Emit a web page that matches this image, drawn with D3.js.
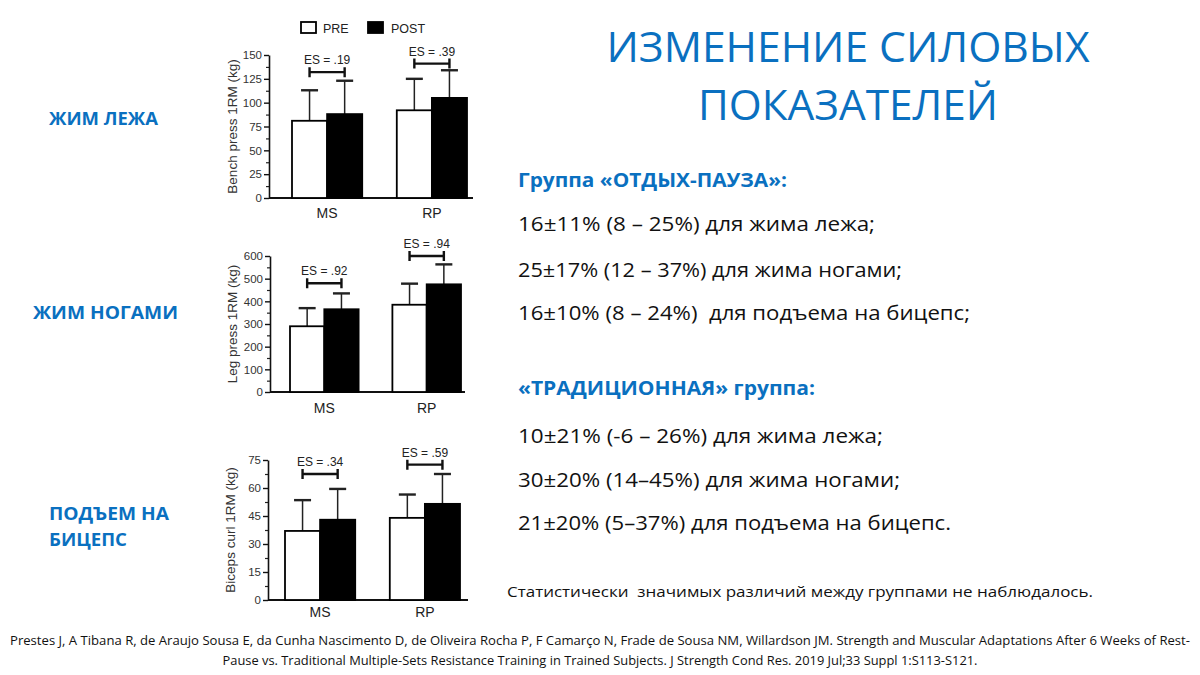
<!DOCTYPE html>
<html><head><meta charset="utf-8">
<script src="https://cdn.jsdelivr.net/npm/d3@7"></script>
<style>body{margin:0;background:#fff}svg{display:block}</style>
</head><body><svg id="c" width="1200" height="675"></svg>
<script>
// ---------- data ----------
const categories = ["MS", "RP"];
const seriesNames = ["PRE", "POST"];

const benchPre = [81, 92];
const benchPreSD = [32, 33];
const benchPost = [88, 105];
const benchPostSD = [35, 29];
const benchES = [".19", ".39"];
const benchESLevel = [132, 141];
const benchTicks = [0, 25, 50, 75, 100, 125, 150];

const legPre = [290, 385];
const legPreSD = [80, 93];
const legPost = [365, 475];
const legPostSD = [70, 88];
const legES = [".92", ".94"];
const legESLevel = [480, 600];
const legTicks = [0, 100, 200, 300, 400, 500, 600];

const bicepsPre = [37, 44];
const bicepsPreSD = [16.5, 12.5];
const bicepsPost = [43, 51.5];
const bicepsPostSD = [16.5, 16];
const bicepsES = [".34", ".59"];
const bicepsESLevel = [67.5, 72.5];
const bicepsTicks = [0, 15, 30, 45, 60, 75];

const exerciseLabels = [["ЖИМ ЛЕЖА"], ["ЖИМ НОГАМИ"], ["ПОДЪЕМ НА", "БИЦЕПС"]];
const titleLines = ["ИЗМЕНЕНИЕ СИЛОВЫХ", "ПОКАЗАТЕЛЕЙ"];
const rpHeader = "Группа «ОТДЫХ-ПАУЗА»:";
const rpLines = ["16±11% (8 – 25%) для жима лежа;", "25±17% (12 – 37%) для жима ногами;", "16±10% (8 – 24%)  для подъема на бицепс;"];
const msHeader = "«ТРАДИЦИОННАЯ» группа:";
const msLines = ["10±21% (-6 – 26%) для жима лежа;", "30±20% (14–45%) для жима ногами;", "21±20% (5–37%) для подъема на бицепс."];
const noteText = "Статистически  значимых различий между группами не наблюдалось.";
const citation = ["Prestes J, A Tibana R, de Araujo Sousa E, da Cunha Nascimento D, de Oliveira Rocha P, F Camarço N, Frade de Sousa NM, Willardson JM. Strength and Muscular Adaptations After 6 Weeks of Rest-",
  "Pause vs. Traditional Multiple-Sets Resistance Training in Trained Subjects. J Strength Cond Res. 2019 Jul;33 Suppl 1:S113-S121."];

// ---------- drawing ----------
const svg = d3.select("#c");
const BLUE = "#0a70c0";
const chartFont = "'Liberation Sans', Arial, sans-serif";
const textFont = "'Open Sans', 'Noto Sans', sans-serif";

const panels = [
  {ylabel: "Bench press 1RM (kg)", pre: benchPre, preSD: benchPreSD, post: benchPost, postSD: benchPostSD,
   es: benchES, esLevel: benchESLevel, ticks: benchTicks,
   yTop: 55, yBot: 198, axisX: 269, axisEnd: 473, bars: [292, 467], catY: 218, ylx: 232},
  {ylabel: "Leg press 1RM (kg)", pre: legPre, preSD: legPreSD, post: legPost, postSD: legPostSD,
   es: legES, esLevel: legESLevel, ticks: legTicks,
   yTop: 256, yBot: 392, axisX: 270, axisEnd: 465, bars: [290, 461], catY: 413, ylx: 232},
  {ylabel: "Biceps curl 1RM (kg)", pre: bicepsPre, preSD: bicepsPreSD, post: bicepsPost, postSD: bicepsPostSD,
   es: bicepsES, esLevel: bicepsESLevel, ticks: bicepsTicks,
   yTop: 460, yBot: 600, axisX: 268, axisEnd: 468, bars: [285, 460], catY: 617, ylx: 230}
];

panels.forEach(p => {
  const g = svg.append("g");
  const tmin = p.ticks[0], tmax = p.ticks[p.ticks.length - 1];
  const y = d3.scaleLinear().domain([tmin, tmax]).range([p.yBot, p.yTop]);
  const x = d3.scaleBand().domain(categories).range(p.bars).paddingInner(0.33).paddingOuter(0);
  const xs = d3.scaleBand().domain(seriesNames).range([0, x.bandwidth()]).padding(0);

  // minor ticks
  const step = p.ticks[1] - p.ticks[0];
  const minor = p.ticks.slice(0, -1).map(t => t + step / 2);
  g.append("g").attr("transform", `translate(${p.axisX},0)`)
    .call(d3.axisLeft(y).tickValues(minor).tickSize(3).tickFormat(""))
    .call(a => a.select(".domain").remove())
    .call(a => a.selectAll("line").attr("stroke", "#222").attr("stroke-width", 1.2));

  // y axis
  g.append("g").attr("transform", `translate(${p.axisX},0)`)
    .call(d3.axisLeft(y).tickValues(p.ticks).tickSize(5).tickSizeOuter(0).tickPadding(2).tickFormat(d3.format("d")))
    .call(a => a.select(".domain").attr("stroke", "#111").attr("stroke-width", 1.6))
    .call(a => a.selectAll("line").attr("stroke", "#111").attr("stroke-width", 1.4))
    .call(a => a.selectAll("text").attr("font-family", chartFont).attr("font-size", 11.5).attr("fill", "#333"));

  // x baseline
  g.append("line").attr("x1", p.axisX).attr("x2", p.axisEnd).attr("y1", y(0)).attr("y2", y(0))
    .attr("stroke", "#111").attr("stroke-width", 1.8);

  // category labels
  g.selectAll(".cat").data(categories).join("text")
    .attr("x", d => x(d) + x.bandwidth() / 2).attr("y", p.catY)
    .attr("text-anchor", "middle").attr("font-family", chartFont).attr("font-size", 14).attr("fill", "#222")
    .text(d => d);

  // y label
  g.append("text").attr("transform", `translate(${p.ylx},${(p.yTop + p.yBot) / 2}) rotate(-90)`)
    .attr("text-anchor", "middle").attr("dominant-baseline", "central")
    .attr("font-family", chartFont).attr("font-size", 13.5).attr("fill", "#333").text(p.ylabel);

  const rows = [];
  categories.forEach((c, i) => {
    rows.push({c, s: "PRE", v: p.pre[i], sd: p.preSD[i]});
    rows.push({c, s: "POST", v: p.post[i], sd: p.postSD[i]});
  });

  // error bars (upper)
  rows.forEach(r => {
    const cx = x(r.c) + xs(r.s) + xs.bandwidth() / 2;
    g.append("line").attr("x1", cx).attr("x2", cx).attr("y1", y(r.v)).attr("y2", y(r.v + r.sd))
      .attr("stroke", "#222").attr("stroke-width", 1.5);
    g.append("line").attr("x1", cx - 8.5).attr("x2", cx + 8.5).attr("y1", y(r.v + r.sd)).attr("y2", y(r.v + r.sd))
      .attr("stroke", "#222").attr("stroke-width", 2.4);
  });

  // bars
  g.selectAll(".bar").data(rows).join("rect")
    .attr("x", d => x(d.c) + xs(d.s)).attr("width", xs.bandwidth())
    .attr("y", d => y(d.v)).attr("height", d => y(0) - y(d.v))
    .attr("fill", d => d.s === "PRE" ? "#fff" : "#000")
    .attr("stroke", "#000").attr("stroke-width", 1.8);

  // ES brackets
  categories.forEach((c, i) => {
    const x1 = x(c) + xs("PRE") + xs.bandwidth() / 2;
    const x2 = x(c) + xs("POST") + xs.bandwidth() / 2;
    const yy = y(p.esLevel[i]);
    g.append("path").attr("d", `M${x1},${yy - 5}V${yy + 5}M${x1},${yy}H${x2}M${x2},${yy - 5}V${yy + 5}`)
      .attr("fill", "none").attr("stroke", "#111").attr("stroke-width", 2.4);
    g.append("text").attr("x", (x1 + x2) / 2).attr("y", yy - 8).attr("text-anchor", "middle")
      .attr("font-family", chartFont).attr("font-size", 12).attr("fill", "#222").text("ES = " + p.es[i]);
  });
});

// legend
const leg = svg.append("g").attr("font-family", chartFont).attr("font-size", 12.5).attr("fill", "#222");
leg.append("rect").attr("x", 301).attr("y", 22).attr("width", 15).attr("height", 11).attr("fill", "#fff").attr("stroke", "#000").attr("stroke-width", 1.8);
leg.append("text").attr("x", 323).attr("y", 33).text(seriesNames[0]);
leg.append("rect").attr("x", 368).attr("y", 22).attr("width", 15).attr("height", 11).attr("fill", "#000").attr("stroke", "#000").attr("stroke-width", 1.8);
leg.append("text").attr("x", 391).attr("y", 33).text(seriesNames[1]);

// left exercise labels
const exPos = [[{x: 49, y: 125, w: 109}], [{x: 33, y: 319, w: 145}], [{x: 49, y: 520, w: 120}, {x: 49, y: 546, w: 78}]];
exerciseLabels.forEach((lines, i) => lines.forEach((t, j) => {
  svg.append("text").attr("x", exPos[i][j].x).attr("y", exPos[i][j].y)
    .attr("font-family", textFont).attr("font-weight", 700).attr("font-size", 18).attr("fill", BLUE)
    .attr("textLength", exPos[i][j].w).attr("lengthAdjust", "spacingAndGlyphs").text(t);
}));

// title
const titleW = [483, 300], titleY = [62, 120];
titleLines.forEach((t, i) => {
  svg.append("text").attr("x", 848).attr("y", titleY[i]).attr("text-anchor", "middle")
    .attr("font-family", textFont).attr("font-size", 42).attr("fill", BLUE)
    .attr("textLength", titleW[i]).attr("lengthAdjust", "spacingAndGlyphs").text(t);
});

// right text blocks
function block(header, hw, hy, lines, lw, ly) {
  svg.append("text").attr("x", 518).attr("y", hy).attr("font-family", textFont).attr("font-weight", 700)
    .attr("font-size", 19).attr("fill", BLUE).attr("textLength", hw).attr("lengthAdjust", "spacingAndGlyphs").text(header);
  lines.forEach((t, i) => {
    svg.append("text").attr("x", 518).attr("y", ly[i]).attr("font-family", textFont)
      .attr("font-size", 20).attr("fill", "#111").attr("textLength", lw[i]).attr("lengthAdjust", "spacingAndGlyphs")
      .attr("xml:space", "preserve").text(t);
  });
}
block(rpHeader, 269, 187, rpLines, [357, 384, 452], [231, 277, 320]);
block(msHeader, 297, 395, msLines, [365, 382, 433], [443, 487, 530]);

svg.append("text").attr("x", 507).attr("y", 597).attr("font-family", textFont).attr("font-size", 15)
  .attr("fill", "#111").attr("textLength", 586).attr("lengthAdjust", "spacingAndGlyphs")
  .attr("xml:space", "preserve").text(noteText);

const citW = [1180, 755];
citation.forEach((t, i) => {
  svg.append("text").attr("x", 600).attr("y", 645 + i * 20).attr("text-anchor", "middle")
    .attr("font-family", textFont).attr("font-size", 12.5).attr("fill", "#111")
    .attr("textLength", citW[i]).attr("lengthAdjust", "spacingAndGlyphs").text(t);
});
</script></body></html>
